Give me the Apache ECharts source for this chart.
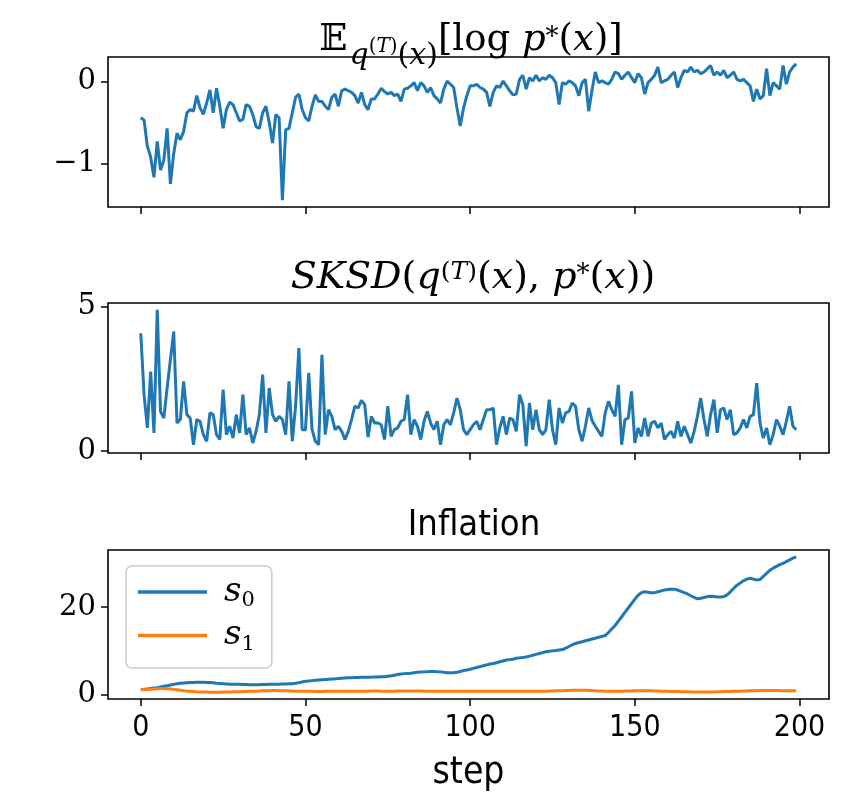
<!DOCTYPE html>
<html>
<head>
<meta charset="utf-8">
<script src="https://cdn.jsdelivr.net/npm/echarts@6/dist/echarts.min.js"></script>
<style>
  html, body { margin: 0; padding: 0; background: #fff; }
  #chart { width: 856px; height: 793px; }
</style>
</head>
<body>
<div id="chart"></div>
<script>
// E_q[log p*(x)] per step
const logP = [
  -0.44,-0.47,-0.79,-0.92,-1.17,-0.73,-1.08,-0.96,-0.57,-1.25,
  -0.88,-0.63,-0.71,-0.61,-0.38,-0.34,-0.36,-0.17,-0.32,-0.40,
  -0.26,-0.10,-0.38,-0.08,-0.30,-0.57,-0.34,-0.25,-0.28,-0.38,
  -0.48,-0.46,-0.28,-0.30,-0.40,-0.55,-0.57,-0.38,-0.30,-0.50,
  -0.75,-0.40,-0.44,-1.45,-0.59,-0.57,-0.38,-0.19,-0.15,-0.34,
  -0.44,-0.48,-0.30,-0.16,-0.24,-0.24,-0.30,-0.34,-0.19,-0.15,
  -0.30,-0.11,-0.09,-0.11,-0.13,-0.17,-0.26,-0.13,-0.28,-0.34,
  -0.21,-0.21,-0.15,-0.08,-0.12,-0.15,-0.13,-0.17,-0.15,-0.24,
  -0.09,-0.08,-0.05,-0.01,-0.11,-0.01,-0.05,-0.13,-0.07,-0.17,
  -0.21,-0.26,-0.09,0.01,-0.03,-0.07,-0.32,-0.54,-0.32,-0.17,
  -0.05,-0.05,-0.03,-0.07,-0.09,-0.13,-0.30,-0.13,-0.05,-0.07,
  0.01,-0.05,-0.11,-0.16,-0.15,0.03,0.08,-0.09,0.05,0.01,
  0.08,0.01,0.05,0.03,0.08,0.05,-0.01,-0.28,-0.01,-0.03,
  0.01,-0.01,-0.05,-0.17,-0.01,0.03,-0.36,-0.10,0.12,-0.01,
  0.01,-0.01,-0.03,0.03,0.12,0.10,0.03,0.08,0.12,0.05,
  -0.01,0.10,0.05,-0.15,-0.01,0.03,0.08,0.18,-0.01,0.01,
  0.03,0.08,0.12,-0.07,0.05,0.14,0.12,0.18,0.12,0.14,
  0.10,0.12,0.16,0.20,0.08,0.12,0.08,0.14,0.05,0.08,
  0.12,0.03,0.01,0.03,-0.01,-0.05,-0.24,-0.09,-0.21,-0.17,
  0.16,-0.17,-0.01,-0.05,-0.09,0.20,-0.03,0.12,0.18,0.22
];

// SKSD per step
const sksd = [
  4.07,1.95,0.80,2.75,0.63,4.88,1.37,1.14,2.18,3.16,
  4.13,0.97,1.09,2.41,1.26,1.14,0.22,1.09,1.03,0.57,
  0.34,1.32,1.26,0.57,0.40,2.12,0.57,0.86,0.45,1.26,
  0.63,1.95,0.57,0.80,0.28,0.68,1.26,2.64,0.63,2.18,
  1.26,1.03,1.20,1.09,0.57,2.41,0.34,1.55,3.56,0.74,
  0.74,2.70,0.74,0.34,0.22,3.33,0.57,1.43,1.20,0.74,
  0.86,0.68,0.40,0.68,1.09,1.55,1.49,1.75,1.60,0.48,
  1.20,0.97,0.97,0.91,0.40,1.55,0.51,0.74,0.80,1.03,
  1.09,1.95,0.57,1.09,0.86,0.40,1.03,1.37,0.97,0.74,
  1.03,0.22,0.91,1.09,0.91,1.32,1.83,1.43,0.74,0.57,
  0.74,0.91,1.03,0.74,1.09,1.43,1.43,1.49,0.22,0.80,
  1.20,0.57,1.14,1.09,0.68,1.95,1.60,0.17,1.66,0.74,
  1.43,0.74,0.57,0.74,1.78,0.74,0.22,1.49,0.97,1.32,
  1.37,1.66,1.55,0.74,0.34,0.86,1.49,1.06,0.86,0.68,
  0.51,1.32,1.72,1.43,1.20,2.29,0.22,1.09,1.14,2.06,
  0.28,0.80,0.51,1.14,0.51,0.97,1.03,0.80,0.97,0.40,
  0.57,0.68,0.45,1.03,0.51,0.86,0.57,0.28,0.68,1.20,
  1.83,1.09,0.51,1.26,1.78,0.63,1.43,1.49,1.09,1.43,
  0.57,0.63,0.80,1.09,0.80,1.20,1.26,2.35,0.97,0.45,
  0.80,0.22,0.57,1.09,0.86,0.57,1.03,1.55,0.86,0.74
];

// Inflation s0
const s0 = [
  1.10,1.20,1.30,1.40,1.50,1.60,1.75,1.90,2.05,2.20,
  2.35,2.50,2.60,2.65,2.70,2.75,2.80,2.85,2.85,2.85,
  2.80,2.75,2.70,2.60,2.55,2.50,2.45,2.40,2.40,2.35,
  2.35,2.30,2.30,2.25,2.25,2.25,2.25,2.30,2.30,2.35,
  2.35,2.40,2.40,2.45,2.45,2.50,2.50,2.60,2.75,2.90,
  3.05,3.10,3.20,3.30,3.35,3.40,3.45,3.50,3.55,3.60,
  3.70,3.75,3.80,3.85,3.85,3.90,3.90,3.95,4.00,4.00,
  4.00,4.05,4.05,4.10,4.10,4.20,4.30,4.45,4.60,4.70,
  4.80,4.85,4.90,5.00,5.10,5.15,5.20,5.25,5.30,5.30,
  5.25,5.20,5.10,5.00,5.00,5.00,5.10,5.30,5.50,5.65,
  5.80,6.00,6.20,6.40,6.60,6.80,7.00,7.10,7.30,7.50,
  7.70,7.90,8.00,8.10,8.30,8.40,8.50,8.60,8.80,9.00,
  9.20,9.40,9.60,9.80,9.90,10.0,10.1,10.2,10.3,10.6,
  11.0,11.4,11.7,11.9,12.1,12.3,12.5,12.7,12.9,13.1,
  13.3,13.5,14.2,15.0,15.8,16.8,17.8,18.8,19.8,20.8,
  21.8,22.7,23.3,23.5,23.4,23.3,23.3,23.5,23.7,23.9,
  24.0,24.1,24.1,23.9,23.6,23.3,23.0,22.6,22.2,21.9,
  22.0,22.2,22.4,22.5,22.4,22.3,22.3,22.4,22.8,23.5,
  24.3,25.0,25.5,26.0,26.4,26.6,26.4,26.2,26.3,27.0,
  27.7,28.4,28.9,29.3,29.7,30.0,30.4,30.8,31.2,31.5
];

// Inflation s1
const s1 = [
  1.10,1.15,1.20,1.25,1.30,1.35,1.40,1.40,1.35,1.30,
  1.20,1.10,1.00,0.90,0.80,0.75,0.70,0.65,0.62,0.60,
  0.58,0.56,0.55,0.55,0.56,0.58,0.60,0.62,0.64,0.66,
  0.68,0.70,0.72,0.75,0.78,0.80,0.83,0.86,0.88,0.90,
  0.92,0.92,0.90,0.88,0.86,0.84,0.82,0.80,0.78,0.77,
  0.76,0.75,0.75,0.74,0.74,0.74,0.75,0.75,0.76,0.76,
  0.77,0.77,0.78,0.78,0.78,0.79,0.79,0.80,0.80,0.80,
  0.81,0.81,0.81,0.80,0.80,0.80,0.80,0.80,0.81,0.81,
  0.82,0.82,0.82,0.82,0.81,0.81,0.80,0.80,0.80,0.80,
  0.80,0.80,0.80,0.79,0.79,0.79,0.78,0.78,0.78,0.78,
  0.78,0.78,0.78,0.78,0.77,0.77,0.77,0.76,0.76,0.76,
  0.76,0.76,0.76,0.76,0.76,0.76,0.76,0.75,0.75,0.75,
  0.76,0.77,0.78,0.80,0.82,0.84,0.86,0.88,0.90,0.93,
  0.96,0.99,1.01,1.02,1.01,0.98,0.95,0.92,0.88,0.85,
  0.82,0.80,0.78,0.77,0.77,0.78,0.79,0.81,0.83,0.85,
  0.86,0.87,0.88,0.88,0.87,0.86,0.84,0.82,0.80,0.78,
  0.76,0.74,0.72,0.70,0.68,0.66,0.64,0.62,0.61,0.60,
  0.60,0.61,0.62,0.63,0.64,0.66,0.68,0.70,0.72,0.74,
  0.76,0.78,0.80,0.82,0.84,0.86,0.88,0.90,0.92,0.93,
  0.94,0.94,0.93,0.92,0.91,0.90,0.89,0.88,0.88,0.88
];

const xTicks = [0, 50, 100, 150, 200];
const yTicks1 = [-1, 0];
const yTicks2 = [0, 5];
const yTicks3 = [0, 20];

const BLUE = "#1f77b4";
const ORANGE = "#ff7f0e";
const SERIF = "'DejaVu Serif', serif";
const SANS = "'DejaVu Sans Condensed', 'DejaVu Sans', sans-serif";

// matplotlib style 5% margins
function padded() {
  const all = [].concat(...arguments);
  const lo = Math.min(...all), hi = Math.max(...all);
  const m = (hi - lo) * 0.05;
  return [lo - m, hi + m];
}
const xLim = [-0.05 * 199, 199 * 1.05];
const lim1 = padded(logP);
const lim2 = padded(sksd);
const lim3 = padded(s0, s1);

const toXY = (arr) => arr.map((v, i) => [i, v]);

const gridTops = [57, 303, 550];
const grids = gridTops.map((t) => ({
  left: 108, width: 721, top: t, height: 150,
  show: true, borderColor: "#000", borderWidth: 1.6, backgroundColor: "transparent"
}));

function xAxisFor(i, last) {
  return {
    type: "value", gridIndex: i, min: xLim[0], max: xLim[1],
    axisLine: { show: false, onZero: false }, splitLine: { show: false },
    axisTick: { show: true, customValues: xTicks, length: 7, lineStyle: { color: "#000", width: 1.5 } },
    axisLabel: { show: last, customValues: xTicks, margin: 14, color: "#000", fontFamily: SANS, fontSize: 30 },
    name: last ? "step" : "", nameLocation: "middle", nameGap: 56,
    nameTextStyle: { color: "#000", fontFamily: SANS, fontSize: 37 }
  };
}
function yAxisFor(i, lim, ticks) {
  return {
    type: "value", gridIndex: i, min: lim[0], max: lim[1],
    axisLine: { show: false, onZero: false }, splitLine: { show: false },
    axisTick: { show: true, customValues: ticks, length: 7, lineStyle: { color: "#000", width: 1.5 } },
    axisLabel: {
      customValues: ticks, margin: 12, color: "#000", fontFamily: SERIF, fontSize: 29,
      formatter: (v) => (v < 0 ? "\u2212" + Math.abs(v) : String(v))
    }
  };
}

function lineSeries(name, data, idx, color) {
  return {
    name: name, type: "line", xAxisIndex: idx, yAxisIndex: idx,
    data: toXY(data), showSymbol: false, symbol: "none",
    lineStyle: { color: color, width: 3 }, itemStyle: { color: color },
    animation: false
  };
}

function rs(size, italic, pad) {
  const s = { fontFamily: SERIF, fontSize: size, color: "#000", fontWeight: "normal" };
  if (italic) s.fontStyle = "italic";
  if (pad) s.padding = pad;
  return s;
}

const titleRich1 = {
  E: rs(37, false, [0, 2, 0, 0]),
  sb: rs(30, true, [32, 0, 0, 0]),
  sbn: rs(30, false, [32, 0, 0, 0]),
  sp: rs(20, false, [14, 0, 0, 0]),
  spi: rs(20, true, [14, 0, 0, 0]),
  n: rs(37, false),
  i: rs(37, true),
  st: rs(26, false, [0, 0, 4, 0])
};
const titleRich2 = {
  n: rs(38, false),
  i: rs(38, true),
  sp: rs(25, false, [0, 0, 12, 0]),
  spi: rs(25, true, [0, 0, 12, 0]),
  st: rs(26, false, [0, 0, 6, 0])
};

const option = {
  backgroundColor: "#fff",
  animation: false,
  title: [
    {
      text: "{E|\uD835\uDD3C}{sb|q}{sp|(}{spi|T}{sp|)}{sbn|(}{sb|x}{sbn|)}{n|[log }{i|p}{st|*}{n|(}{i|x}{n|)]}",
      left: 466, top: 4, textAlign: "center",
      textStyle: { fontWeight: "normal", color: "#000", rich: titleRich1 }
    },
    {
      text: "{i|SKSD}{n|(}{i|q}{sp|(}{spi|T}{sp|)}{n|(}{i|x}{n|), }{i|p}{st|*}{n|(}{i|x}{n|))}",
      left: 468, top: 254, textAlign: "center",
      textStyle: { fontWeight: "normal", color: "#000", rich: titleRich2 }
    },
    {
      text: "Inflation",
      left: 469, top: 503, textAlign: "center",
      textStyle: { fontFamily: SANS, fontSize: 36, fontWeight: "normal", color: "#000" }
    }
  ],
  legend: {
    data: ["s0", "s1"],
    orient: "vertical", left: 126, top: 566,
    icon: "rect", itemWidth: 69, itemHeight: 3.5, itemGap: 7,
    padding: [9, 17, 13, 12],
    backgroundColor: "rgba(255,255,255,0.8)", borderColor: "#cccccc", borderWidth: 1.5, borderRadius: 6,
    formatter: (name) => "{s|s}{d|" + name.slice(1) + "}",
    textStyle: {
      color: "#000",
      rich: {
        s: { fontFamily: SERIF, fontStyle: "italic", fontSize: 34, color: "#000", padding: [0, 0, 0, 12] },
        d: { fontFamily: SERIF, fontSize: 21, color: "#000", padding: [18, 0, 0, 0] }
      }
    }
  },
  grid: grids,
  xAxis: [xAxisFor(0, false), xAxisFor(1, false), xAxisFor(2, true)],
  yAxis: [yAxisFor(0, lim1, yTicks1), yAxisFor(1, lim2, yTicks2), yAxisFor(2, lim3, yTicks3)],
  series: [
    lineSeries("logp", logP, 0, BLUE),
    lineSeries("sksd", sksd, 1, BLUE),
    lineSeries("s0", s0, 2, BLUE),
    lineSeries("s1", s1, 2, ORANGE)
  ]
};

const chart = echarts.init(document.getElementById("chart"), null, { renderer: "canvas" });
chart.setOption(option);
</script>
</body>
</html>
